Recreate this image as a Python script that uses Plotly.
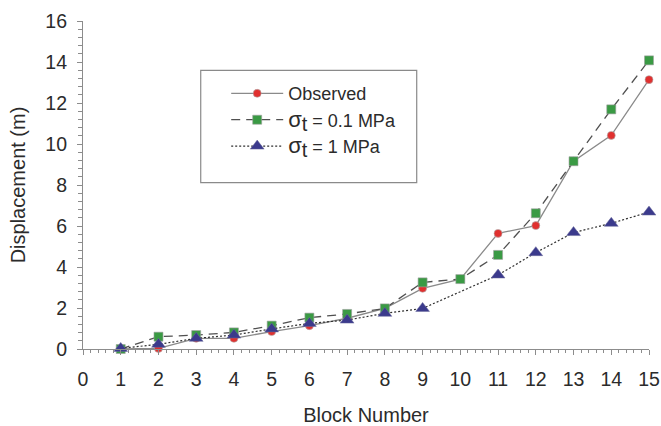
import plotly.graph_objects as go

blocks = list(range(1, 16))
observed = [0.0, 0.03, 0.52, 0.52, 0.85, 1.14, 1.5, 1.98, 2.96, 3.41, 5.64, 6.02, 9.16, 10.42, 13.14]
sigma_01 = [0.0, 0.6, 0.68, 0.81, 1.14, 1.53, 1.71, 1.98, 3.25, 3.41, 4.59, 6.62, 9.16, 11.69, 14.08]
sigma_1 = [0.03, 0.23, 0.52, 0.68, 0.98, 1.25, 1.41, 1.74, 1.98, None, 3.61, 4.7, 5.68, 6.13, 6.68]

series_names = [
    "Observed",
    '<span style="font-size:22px">σ</span><sub><span style="font-size:20px">t</span></sub> = 0.1 MPa',
    '<span style="font-size:22px">σ</span><sub><span style="font-size:20px">t</span></sub> = 1 MPa',
]

x_ticks = list(range(0, 16))
y_ticks = list(range(0, 17, 2))

FONT = "Liberation Sans, Arial, sans-serif"
TXT = "#2b2b2b"
AX = "#8c8c8c"

fig = go.Figure()
fig.add_trace(go.Scatter(
    x=blocks, y=observed, mode="lines+markers", name=series_names[0],
    line=dict(color="#8a8a8a", width=1.3),
    marker=dict(symbol="circle", size=8, color="#e0302f", line=dict(color="#b0b0b0", width=0.6)),
    cliponaxis=False))
fig.add_trace(go.Scatter(
    x=blocks, y=sigma_01, mode="lines+markers", name=series_names[1],
    line=dict(color="#505050", width=1.3, dash="9px,6px"),
    marker=dict(symbol="square", size=9, color="#3a9a44", line=dict(color="#a0a0a0", width=0.6)),
    cliponaxis=False))
fig.add_trace(go.Scatter(
    x=blocks, y=sigma_1, mode="lines+markers", name=series_names[2],
    connectgaps=True,
    line=dict(color="#303030", width=1.2, dash="2px,2px"),
    marker=dict(symbol="triangle-up", size=12, color="#3b3a8c", line=dict(color="#6a6a9a", width=0.5)),
    cliponaxis=False))

fig.add_shape(type="rect", xref="paper", yref="paper",
              x0=0.208, x1=0.5896, y0=0.507, y1=0.8497,
              line=dict(color="#8a8a8a", width=1.2), fillcolor="rgba(0,0,0,0)", layer="below")

fig.update_layout(
    width=661, height=426,
    margin=dict(l=83, r=12, t=21, b=77),
    plot_bgcolor="white", paper_bgcolor="white",
    font=dict(family=FONT, color=TXT, size=19),
    showlegend=True,
    legend=dict(x=0.253, y=0.835, xanchor="left", yanchor="top",
                bgcolor="rgba(0,0,0,0)", borderwidth=0,
                font=dict(family=FONT, size=18, color=TXT),
                tracegroupgap=0, itemwidth=52),
    xaxis=dict(
        range=[0, 15], tickvals=x_ticks, ticktext=[str(v) for v in x_ticks],
        showgrid=False, zeroline=False, showline=True, linecolor=AX, linewidth=1.2,
        ticks="outside", ticklen=5, tickcolor=AX, tickwidth=1,
        minor=dict(dtick=0.2, ticks="outside", ticklen=3, tickcolor=AX, tickwidth=1),
        tickfont=dict(size=19.5, color=TXT), ticklabelstandoff=7,
        automargin=False,
        title=dict(text="Block Number", font=dict(size=20, color=TXT), standoff=24),
    ),
    yaxis=dict(
        range=[0, 16], tickvals=y_ticks, ticktext=[str(v) for v in y_ticks],
        showgrid=False, zeroline=False, showline=True, linecolor=AX, linewidth=1.2,
        ticks="outside", ticklen=5, tickcolor=AX, tickwidth=1,
        minor=dict(dtick=0.4, ticks="outside", ticklen=4, tickcolor=AX, tickwidth=1),
        tickfont=dict(size=19.5, color=TXT), ticklabelstandoff=6,
        automargin=False,
        title=dict(text="Displacement (m)", font=dict(size=20, color=TXT), standoff=14),
    ),
)

fig.write_html("out.html")
